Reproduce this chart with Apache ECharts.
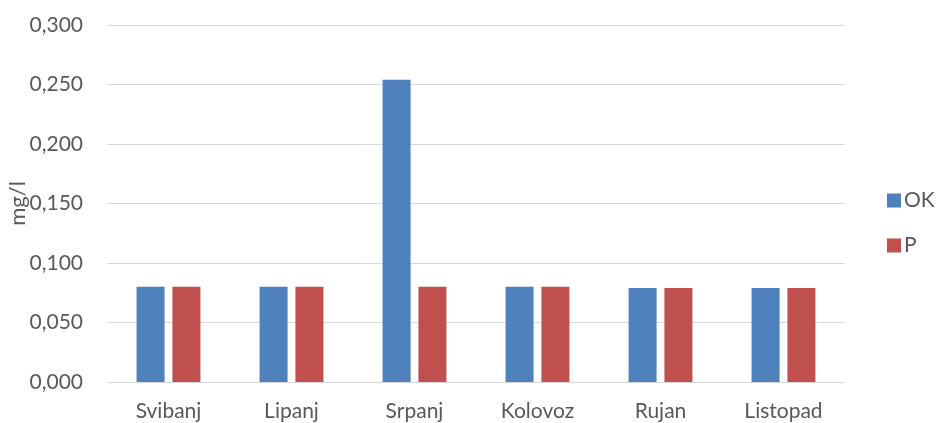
<!DOCTYPE html>
<html><head><meta charset="utf-8">
<script src="https://cdn.jsdelivr.net/npm/echarts@6/dist/echarts.min.js"></script>
<style>html,body{margin:0;padding:0;background:#fff}#c{width:936px;height:423px}</style>
</head><body><div id="c"></div>
<script>
const categories = ['Svibanj','Lipanj','Srpanj','Kolovoz','Rujan','Listopad'];
const okValues = [0.080, 0.080, 0.254, 0.080, 0.079, 0.079];
const pValues = [0.080, 0.080, 0.080, 0.080, 0.079, 0.079];
const seriesNames = ['OK','P'];
const yTicks = { min: 0, max: 0.3, interval: 0.05 };
const FONT = 'Lato, "Open Sans", sans-serif';
const chart = echarts.init(document.getElementById('c'));
chart.setOption({
  animation: false,
  textStyle: { fontFamily: FONT },
  grid: { left: 107, right: 91, top: 25, bottom: 41, containLabel: false, outerBoundsMode: 'none' },
  legend: {
    orient: 'vertical', left: 882, top: 185, itemWidth: 14, itemHeight: 14,
    itemGap: 24, icon: 'rect',
    textStyle: { fontFamily: FONT, fontSize: 21, color: '#595959', padding: [0,0,0,-2] },
    data: seriesNames
  },
  xAxis: {
    type: 'category', data: categories,
    axisLine: { lineStyle: { color: '#d9d9d9', width: 1 } },
    axisTick: { show: false },
    axisLabel: { fontFamily: FONT, fontSize: 21, color: '#595959', margin: 19 }
  },
  yAxis: {
    type: 'value', min: yTicks.min, max: yTicks.max, interval: yTicks.interval,
    name: 'mg/l', nameLocation: 'middle', nameRotate: 90, nameGap: 78,
    nameMoveOverlap: false,
    nameTextStyle: { fontFamily: FONT, fontSize: 22, color: '#595959' },
    axisLine: { show: false }, axisTick: { show: false },
    splitLine: { lineStyle: { color: '#d9d9d9', width: 1 } },
    axisLabel: { fontFamily: FONT, fontSize: 21, color: '#595959', margin: 24,
      formatter: v => v.toFixed(3).replace('.', ',') }
  },
  series: [
    { name: seriesNames[0], type: 'bar', data: okValues, barWidth: 28, barGap: '28%',
      itemStyle: { color: '#4F81BD' } },
    { name: seriesNames[1], type: 'bar', data: pValues, barWidth: 28,
      itemStyle: { color: '#C0504D' } }
  ]
});
</script></body></html>
